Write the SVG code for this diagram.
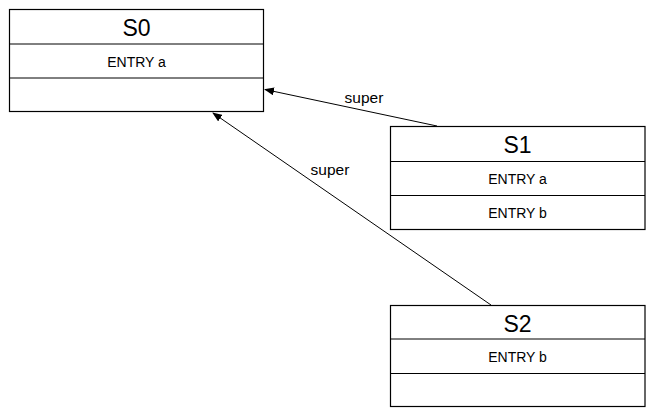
<svg xmlns="http://www.w3.org/2000/svg" width="652" height="415" viewBox="0 0 652 415">
<style>
.box{fill:#fff;stroke:#000;stroke-width:1.2}
.div{stroke:#000;stroke-width:1}
.t{font-family:"Liberation Sans",Arial,sans-serif;text-anchor:middle;fill:#000}
.title{font-size:23px}
.e{font-size:14px}
.edge{stroke:#000;stroke-width:1;fill:none;marker-end:url(#ah)}
.lbl{font-family:"Liberation Sans",Arial,sans-serif;font-size:15.5px;fill:#000;text-anchor:middle}
</style>
<defs>
<marker id="ah" markerWidth="10" markerHeight="8" refX="9" refY="4" orient="auto" markerUnits="userSpaceOnUse">
<path d="M0,0 L10,4 L0,8 Z" fill="#000"/>
</marker>
</defs>
<rect width="652" height="415" fill="#fff"/>
<g id="connectors">
<line class="edge" x1="437" y1="126" x2="265" y2="89.5"/>
<text class="lbl" x="364" y="102.5">super</text>
<line class="edge" x1="491" y1="305" x2="213" y2="113"/>
<text class="lbl" x="330" y="175">super</text>
</g>
<g id="S0">
<rect class="box" x="9.5" y="9.5" width="254" height="102"/>
<line class="div" x1="9.5" y1="44" x2="263.5" y2="44"/>
<line class="div" x1="9.5" y1="78" x2="263.5" y2="78"/>
<text class="t title" x="136.5" y="36">S0</text>
<text class="t e" x="136.5" y="66.5">ENTRY a</text>
</g>
<g id="S1">
<rect class="box" x="390.5" y="126.5" width="254.5" height="103"/>
<line class="div" x1="390.5" y1="161.5" x2="645" y2="161.5"/>
<line class="div" x1="390.5" y1="195.5" x2="645" y2="195.5"/>
<text class="t title" x="517.5" y="153">S1</text>
<text class="t e" x="517.5" y="183.5">ENTRY a</text>
<text class="t e" x="517.5" y="217.5">ENTRY b</text>
</g>
<g id="S2">
<rect class="box" x="390.5" y="305.5" width="254.5" height="101"/>
<line class="div" x1="390.5" y1="339" x2="645" y2="339"/>
<line class="div" x1="390.5" y1="373.5" x2="645" y2="373.5"/>
<text class="t title" x="517.5" y="332">S2</text>
<text class="t e" x="517.5" y="361.5">ENTRY b</text>
</g>
</svg>
